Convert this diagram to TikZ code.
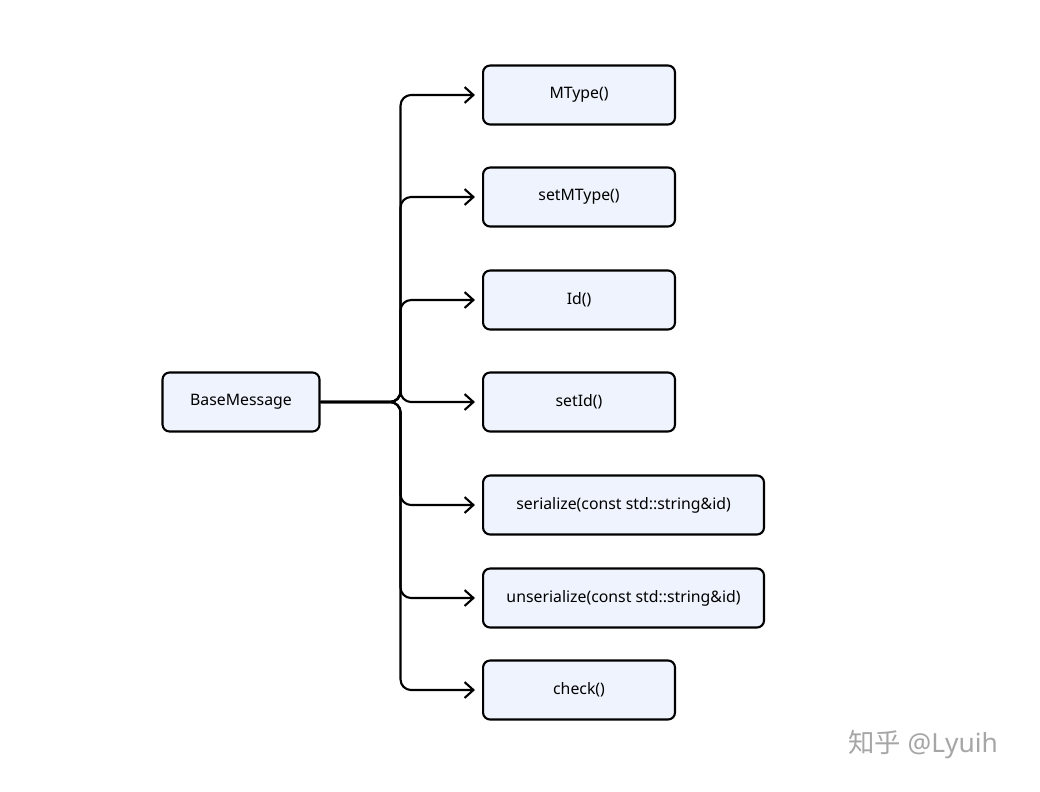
\documentclass[tikz,border=0pt]{standalone}
\usepackage{fontspec}
\setmainfont{Noto Sans}
\newfontfamily\cjk{Noto Sans CJK SC}
\usetikzlibrary{arrows.meta}
\definecolor{boxfill}{HTML}{EEF3FD}
\begin{document}
\begin{tikzpicture}[x=0.02cm,y=-0.02cm]
\tikzset{
  box/.style={draw, line width=1.2pt, rounded corners=4pt, fill=boxfill,
    minimum height=1.18cm, inner sep=2pt, font=\fontsize{9}{11}\selectfont},
  fn/.style={box, minimum width=3.84cm, anchor=west},
  conn/.style={line width=1.2pt, rounded corners=6pt, -{Straight Barb[length=5pt,width=9pt]}, shorten >=4pt}
}
\useasboundingbox (0,0) rectangle (1040,791);
\node[box, minimum width=3.14cm] (base) at (241,402) {BaseMessage};
\node[fn] (mtype) at (482,95) {MType()};
\node[fn] (setmtype) at (482,197) {setMType()};
\node[fn] (id) at (482,300) {Id()};
\node[fn] (setid) at (482,402) {setId()};
\node[fn, minimum width=5.62cm] (ser) at (482,505) {serialize(const std::string\&id)};
\node[fn, minimum width=5.62cm] (unser) at (482,598) {unserialize(const std::string\&id)};
\node[fn] (check) at (482,690) {check()};
\foreach \t in {mtype,setmtype,id,setid,ser,unser,check}
  \draw[conn] (base.east) -- ++(80,0) |- (\t.west);
\node[text=gray!70, font=\fontsize{15}{18}\selectfont] (mark) at (923,745) {{\cjk 知乎} @Lyuih};
\end{tikzpicture}
\end{document}
